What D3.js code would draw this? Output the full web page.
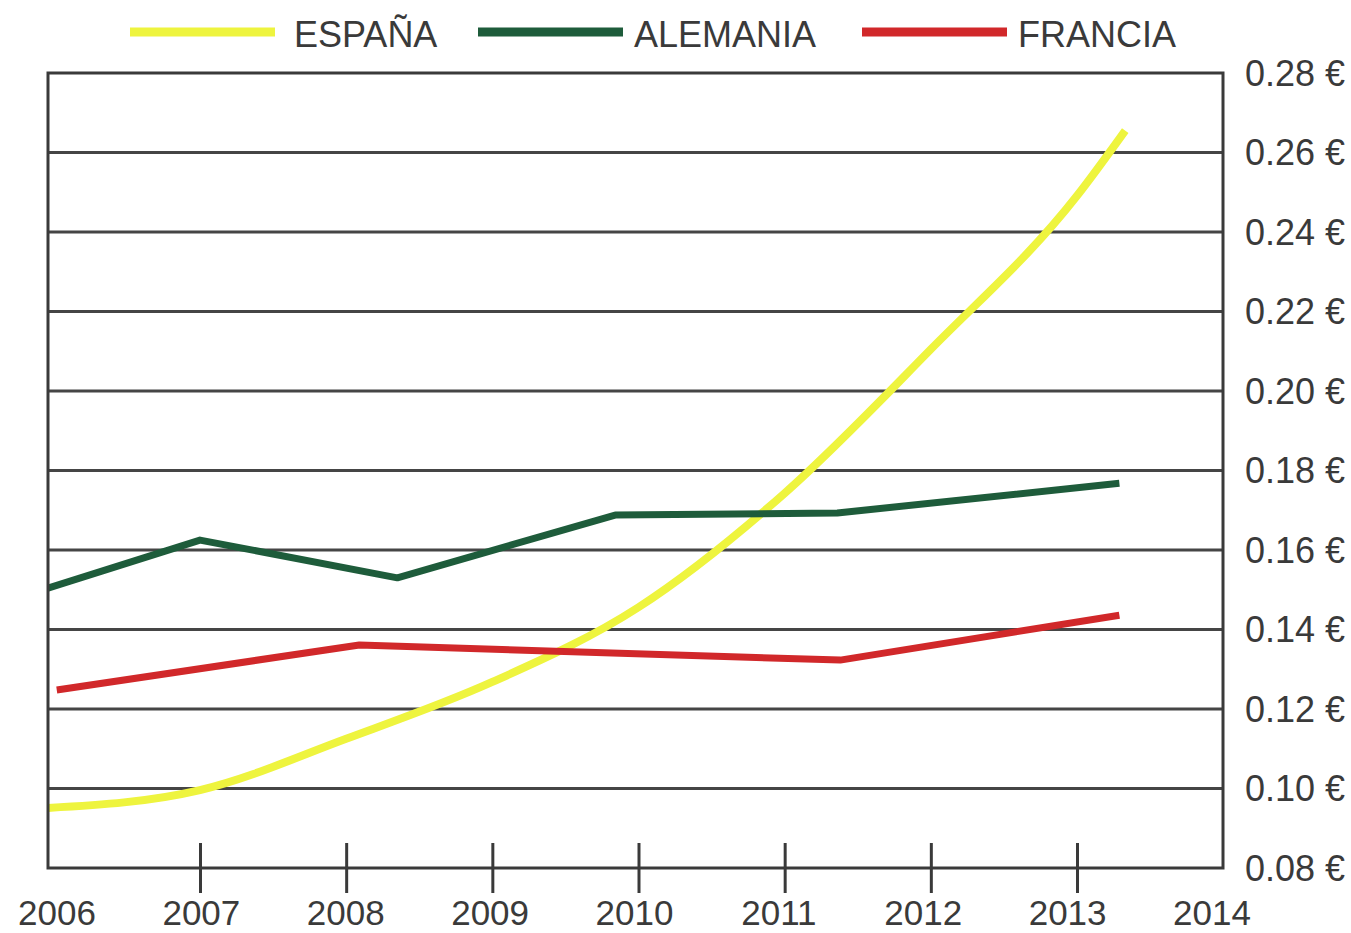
<!DOCTYPE html>
<html>
<head>
<meta charset="utf-8">
<script src="https://cdn.jsdelivr.net/npm/d3@7"></script>
<style>
  html, body { margin: 0; padding: 0; background: #fff; overflow: hidden; }
  text { font-family: "Liberation Sans", Arial, sans-serif; fill: #3a3a3a; }
</style>
</head>
<body>
<div id="chart"></div>
<script>
// Data (x in years, y in € per kWh)
var yearTicks = [2006, 2007, 2008, 2009, 2010, 2011, 2012, 2013, 2014];
var valueTicks = [0.08, 0.10, 0.12, 0.14, 0.16, 0.18, 0.20, 0.22, 0.24, 0.26, 0.28];

var espanaYears = [2005.96, 2007, 2008, 2009, 2010, 2011, 2012, 2013, 2013.33];
var espanaValues = [0.0951, 0.0996, 0.1125, 0.1268, 0.1456, 0.1743, 0.2105, 0.2491, 0.2655];

var alemaniaYears = [2005.96, 2007.0, 2008.35, 2009.84, 2011.36, 2013.29];
var alemaniaValues = [0.1504, 0.1625, 0.1530, 0.1688, 0.1693, 0.1768];

var franciaYears = [2006.02, 2008.09, 2011.38, 2013.29];
var franciaValues = [0.1248, 0.1361, 0.1323, 0.1436];

var seriesNames = ["ESPAÑA", "ALEMANIA", "FRANCIA"];
var seriesColors = ["#eef43e", "#1e5c3b", "#d1282a"];

var width = 1351, height = 933;
var frameLeft = 48, frameRight = 1223, frameTop = 73, frameBottom = 868;

var svg = d3.select("#chart").append("svg")
  .attr("width", width)
  .attr("height", height);

var x = d3.scaleLinear().domain([2007, 2013]).range([200, 1077]);
// tick labels sit a little tighter than the ticks in the original
var xLabel = d3.scaleLinear().domain([2006, 2014]).range([57, 1212]);
var y = d3.scaleLinear().domain([0.08, 0.28]).range([frameBottom, frameTop]);

// Grid lines
svg.selectAll(".grid")
  .data(valueTicks.slice(1, -1))
  .enter().append("line")
    .attr("x1", frameLeft)
    .attr("x2", frameRight)
    .attr("y1", function(d) { return y(d); })
    .attr("y2", function(d) { return y(d); })
    .attr("stroke", "#454545")
    .attr("stroke-width", 3);

// Series lines
var lineStraight = d3.line()
  .x(function(d) { return x(d[0]); })
  .y(function(d) { return y(d[1]); });
var lineSmooth = d3.line()
  .x(function(d) { return x(d[0]); })
  .y(function(d) { return y(d[1]); })
  .curve(d3.curveMonotoneX);

var series = [
  { pts: d3.zip(espanaYears, espanaValues), line: lineSmooth, color: seriesColors[0], w: 8 },
  { pts: d3.zip(franciaYears, franciaValues), line: lineStraight, color: seriesColors[2], w: 7 },
  { pts: d3.zip(alemaniaYears, alemaniaValues), line: lineStraight, color: seriesColors[1], w: 7 }
];

series.forEach(function(s) {
  svg.append("path")
    .datum(s.pts)
    .attr("d", s.line)
    .attr("fill", "none")
    .attr("stroke", s.color)
    .attr("stroke-width", s.w)
    .attr("stroke-linejoin", "round");
});

// Frame
svg.append("rect")
  .attr("x", frameLeft)
  .attr("y", frameTop)
  .attr("width", frameRight - frameLeft)
  .attr("height", frameBottom - frameTop)
  .attr("fill", "none")
  .attr("stroke", "#3a3a3a")
  .attr("stroke-width", 3);

// X ticks crossing the bottom axis
var xaxis = svg.append("g")
  .attr("transform", "translate(0," + (frameBottom + 25) + ")")
  .call(d3.axisBottom(x).tickValues(yearTicks.slice(1, -1)).tickSize(-50).tickFormat(""));
xaxis.select(".domain").remove();
xaxis.selectAll(".tick line").attr("stroke", "#3a3a3a").attr("stroke-width", 3);

// X labels
svg.selectAll(".xlabel")
  .data(yearTicks)
  .enter().append("text")
    .attr("x", function(d) { return xLabel(d); })
    .attr("y", 925)
    .attr("text-anchor", "middle")
    .style("font-size", "35px")
    .text(function(d) { return d; });

// Y labels on the right
svg.selectAll(".ylabel")
  .data(valueTicks)
  .enter().append("text")
    .attr("x", 1245)
    .attr("y", function(d) { return y(d); })
    .attr("dy", "0.36em")
    .style("font-size", "36px")
    .text(function(d) { return d3.format(".2f")(d) + " €"; });

// Legend
var legendX = [130, 478, 862];
var legend = svg.selectAll(".legend")
  .data(seriesNames)
  .enter().append("g")
    .attr("transform", function(d, i) { return "translate(" + legendX[i] + ",0)"; });
legend.append("line")
  .attr("x1", 0).attr("x2", 145)
  .attr("y1", 32).attr("y2", 32)
  .attr("stroke", function(d, i) { return seriesColors[i]; })
  .attr("stroke-width", 9);
legend.append("text")
  .attr("x", function(d, i) { return i == 0 ? 164 : 156; })
  .attr("y", 47)
  .style("font-size", "36px")
  .text(function(d) { return d; });
</script>
</body>
</html>
